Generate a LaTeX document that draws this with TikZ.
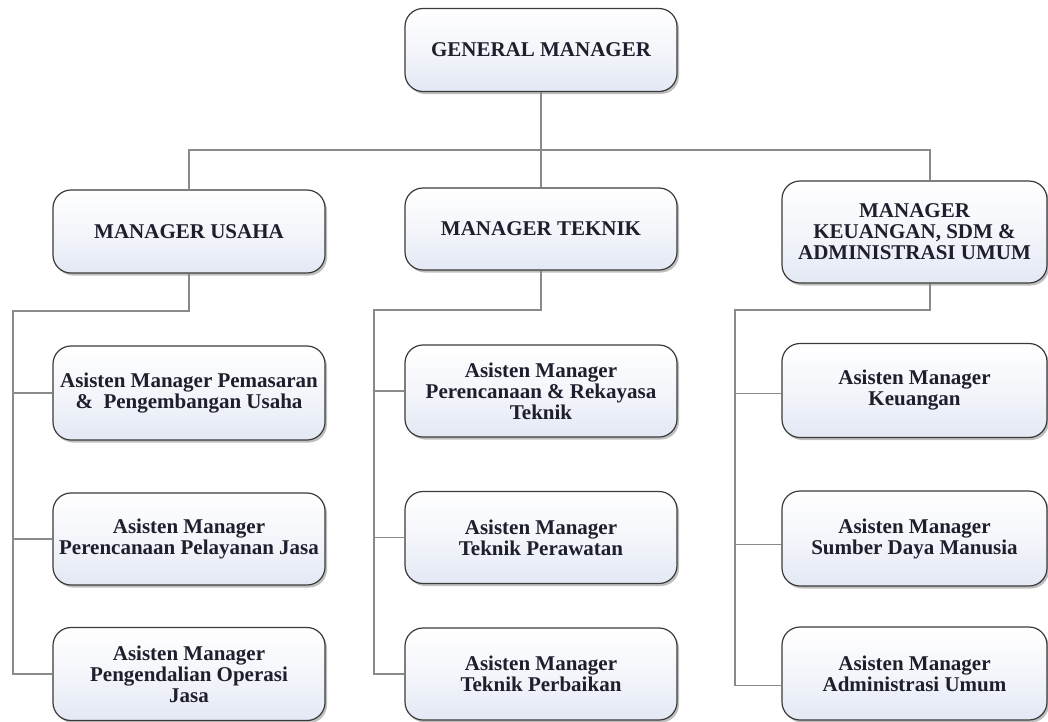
\documentclass[tikz,border=0pt]{standalone}
\usepackage{fontspec}
\setmainfont{Liberation Serif}
\usetikzlibrary{shadows,calc}
\definecolor{boxline}{HTML}{3A3A3A}
\definecolor{boxfillbot}{HTML}{E3E8F4}
\definecolor{connline}{HTML}{8A8A8A}
\definecolor{txt}{HTML}{1E1E2C}
\tikzset{
  unitbox/.style={draw=boxline, line width=1.2pt, rounded corners=18pt,
    top color=white, bottom color=boxfillbot, middle color=white!60!boxfillbot,
    minimum width=272pt, minimum height=#1, inner sep=0pt, align=center,
    text=txt, font=\bfseries\fontsize{21}{21}\selectfont,
    drop shadow={shadow xshift=2pt, shadow yshift=-2.5pt, opacity=0.25, fill=black}},
  unitbox/.default=83pt,
  conn/.style={draw=connline, line width=1.3pt}
}
\begin{document}
\begin{tikzpicture}[x=1pt, y=-1pt]
\useasboundingbox (0,0) rectangle (1048,721);

% top level
\node[unitbox] (gm) at (541,50) {GENERAL MANAGER};

% managers
\node[unitbox] (mu) at (189,231.5) {MANAGER USAHA};
\node[unitbox=82pt] (mt) at (541,229) {MANAGER TEKNIK};
\node[unitbox=102pt, minimum width=265pt] (mk) at (914.5,232) {MANAGER\\KEUANGAN, SDM \&\\ADMINISTRASI UMUM};

% assistants, usaha
\node[unitbox=94pt] (u1) at (189,393) {Asisten Manager Pemasaran\\\& \ Pengembangan Usaha};
\node[unitbox=92pt] (u2) at (189,539) {Asisten Manager\\Perencanaan Pelayanan Jasa};
\node[unitbox=93pt] (u3) at (189,674) {Asisten Manager\\Pengendalian Operasi\\Jasa};

% assistants, teknik
\node[unitbox=92pt] (t1) at (541,391) {Asisten Manager\\Perencanaan \& Rekayasa\\Teknik};
\node[unitbox=92pt] (t2) at (541,537.5) {Asisten Manager\\Teknik Perawatan};
\node[unitbox=92pt] (t3) at (541,674) {Asisten Manager\\Teknik Perbaikan};

% assistants, keuangan
\node[unitbox=94pt, minimum width=265pt] (k1) at (914.5,390.5) {Asisten Manager\\Keuangan};
\node[unitbox=95pt, minimum width=265pt] (k2) at (914.5,538.5) {Asisten Manager\\Sumber Daya Manusia};
\node[unitbox=93pt, minimum width=265pt] (k3) at (914.5,673.5) {Asisten Manager\\Administrasi Umum};

% bus points
\coordinate (bus) at (541,150);
\coordinate (ub) at (13,311);
\coordinate (tb) at (374,310);
\coordinate (kb) at (735,310);

% general manager to managers
\draw[conn] (gm.south) -- (mt.north);
\draw[conn] (mu.north) |- (bus) -| ([xshift=15.5pt]mk.north);

% usaha branch
\draw[conn] (mu.south) |- (ub) -- (ub |- u3.west) -- (u3.west);
\draw[conn] (ub |- u1.west) -- (u1.west);
\draw[conn] (ub |- u2.west) -- (u2.west);

% teknik branch
\draw[conn] (mt.south) |- (tb) -- (tb |- t3.west) -- (t3.west);
\draw[conn] (tb |- t1.west) -- (t1.west);
\draw[conn] (tb |- t2.west) -- (t2.west);

% keuangan branch
\draw[conn] ([xshift=15.5pt]mk.south) |- (kb) -- ($(kb |- k3.west)+(0,12)$) -- ([yshift=-12pt]k3.west);
\draw[conn] ($(kb |- k1.west)+(0,3)$) -- ([yshift=-3pt]k1.west);
\draw[conn] ($(kb |- k2.west)+(0,6)$) -- ([yshift=-6pt]k2.west);
\end{tikzpicture}
\end{document}
